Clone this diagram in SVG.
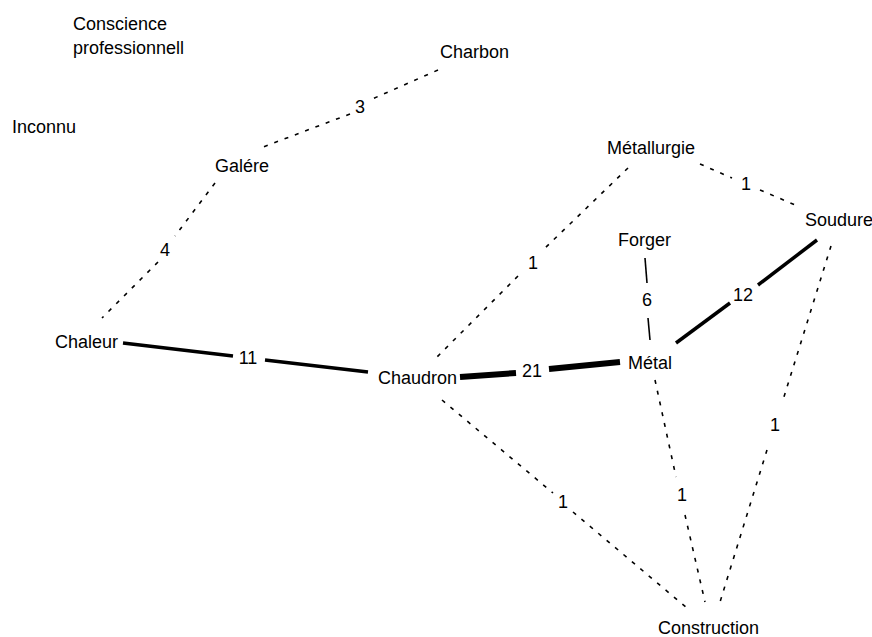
<svg xmlns="http://www.w3.org/2000/svg" width="872" height="637" viewBox="0 0 872 637">
<style>
text{font-family:"Liberation Sans",Arial,sans-serif;font-size:18px;fill:#000}
.lbl{text-anchor:middle;dominant-baseline:central}
.d{stroke:#000;stroke-width:1.6;stroke-dasharray:4 7;fill:none}
.s1{stroke:#000;stroke-width:1.6;fill:none}
.s3{stroke:#000;stroke-width:3.5;fill:none}
.s6{stroke:#000;stroke-width:6;fill:none}
</style>
<rect width="872" height="637" fill="#fff"/>
<g id="connectors">
<g id="e-charbon-galere"><line class="d" x1="438" y1="70" x2="370" y2="100"/><line class="d" x1="350" y1="114" x2="263" y2="147"/><text class="lbl" x="360" y="107">3</text></g>
<g id="e-galere-chaleur"><line class="d" x1="215" y1="183" x2="175" y2="236"/><line class="d" x1="158" y1="262" x2="102" y2="318"/><text class="lbl" x="165" y="250">4</text></g>
<g id="e-chaleur-chaudron"><line class="s3" x1="123" y1="343" x2="233" y2="356"/><line class="s3" x1="265" y1="360" x2="368" y2="372"/><text class="lbl" x="248" y="358">11</text></g>
<g id="e-chaudron-metal"><line class="s6" x1="460" y1="377" x2="516" y2="373"/><line class="s6" x1="549" y1="369" x2="620" y2="362"/><text class="lbl" x="532" y="371">21</text></g>
<g id="e-metal-soudure"><line class="s3" x1="676" y1="343" x2="730" y2="303"/><line class="s3" x1="758" y1="285" x2="817" y2="240"/><text class="lbl" x="743" y="295">12</text></g>
<g id="e-forger-metal"><line class="s1" x1="645" y1="258" x2="647" y2="283"/><line class="s1" x1="648" y1="318" x2="650" y2="340"/><text class="lbl" x="647" y="300">6</text></g>
<g id="e-metallurgie-chaudron"><line class="d" x1="628" y1="168" x2="543" y2="250"/><line class="d" x1="518" y1="276" x2="436" y2="358"/><text class="lbl" x="533" y="263">1</text></g>
<g id="e-metallurgie-soudure"><line class="d" x1="700" y1="164" x2="732" y2="178"/><line class="d" x1="760" y1="190" x2="800" y2="207"/><text class="lbl" x="746" y="184">1</text></g>
<g id="e-soudure-construction"><line class="d" x1="831" y1="246" x2="783" y2="400"/><line class="d" x1="767" y1="450" x2="720" y2="602"/><text class="lbl" x="775" y="425">1</text></g>
<g id="e-metal-construction"><line class="d" x1="655" y1="380" x2="676" y2="477"/><line class="d" x1="685" y1="515" x2="705" y2="602"/><text class="lbl" x="682" y="495">1</text></g>
<g id="e-chaudron-construction"><line class="d" x1="442" y1="400" x2="553" y2="493"/><line class="d" x1="573" y1="512" x2="687" y2="608"/><text class="lbl" x="563" y="502">1</text></g>
</g>
<g id="n-conscience"><text x="73" y="30">Conscience</text><text x="73" y="54">professionnell</text></g>
<g id="n-charbon"><text x="440" y="58">Charbon</text></g>
<g id="n-inconnu"><text x="12" y="133">Inconnu</text></g>
<g id="n-galere"><text x="215" y="172">Galére</text></g>
<g id="n-metallurgie"><text x="607" y="154">Métallurgie</text></g>
<g id="n-soudure"><text x="805" y="226">Soudure</text></g>
<g id="n-forger"><text x="618" y="246">Forger</text></g>
<g id="n-chaleur"><text x="55" y="348">Chaleur</text></g>
<g id="n-chaudron"><text x="378" y="384">Chaudron</text></g>
<g id="n-metal"><text x="628" y="369">Métal</text></g>
<g id="n-construction"><text x="658" y="634">Construction</text></g>
</svg>
